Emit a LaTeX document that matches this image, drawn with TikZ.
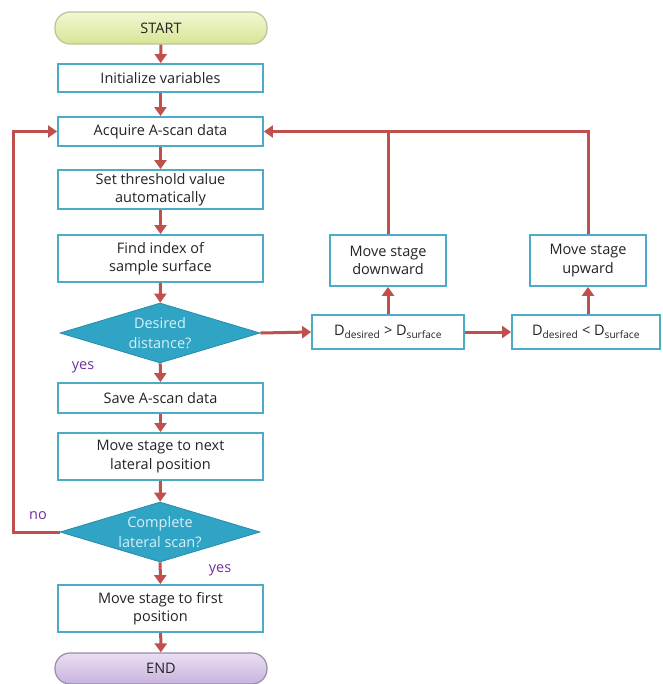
\documentclass[tikz,border=0pt]{standalone}
\usepackage{fontspec}
\setmainfont{Open Sans}
\usetikzlibrary{shapes.geometric,arrows.meta,calc}
\definecolor{boxline}{RGB}{75,172,198}
\definecolor{dfill}{RGB}{48,164,196}
\definecolor{dline}{RGB}{40,140,170}
\definecolor{dtext}{RGB}{215,240,250}
\definecolor{arr}{RGB}{192,80,77}
\definecolor{lbl}{RGB}{112,48,160}
\definecolor{startA}{RGB}{243,247,210}
\definecolor{startB}{RGB}{214,229,150}
\definecolor{startL}{RGB}{185,195,150}
\definecolor{endA}{RGB}{234,222,242}
\definecolor{endB}{RGB}{200,180,222}
\definecolor{endL}{RGB}{150,140,165}
\definecolor{txt}{RGB}{35,35,35}
\begin{document}
\begin{tikzpicture}[x=1pt,y=-1pt,
  every node/.style={font=\fontsize{14.5}{18.5}\selectfont, text=txt},
  procbox/.style={draw=boxline, line width=1.8pt, fill=white, align=center, inner sep=0pt},
  decbox/.style={diamond, draw=dline, line width=0.8pt, fill=dfill, aspect=3.33, inner sep=0pt,
     minimum width=200pt, minimum height=60pt, align=center, text=dtext,
     font=\fontsize{14.5}{20}\selectfont},
  termbox/.style={rounded corners=15pt, line width=1.2pt, align=center, inner sep=0pt},
  flow/.style={draw=arr, line width=3pt, -{Triangle[width=12pt,length=9pt]}},
  plainflow/.style={draw=arr, line width=3pt},
  lab/.style={text=lbl}
]
\useasboundingbox (0,0) rectangle (662,684);

\node[termbox, draw=startL, top color=startA, bottom color=startB,
      minimum width=212pt, minimum height=32pt] (start) at (161,28) {START};
\node[procbox, minimum width=205pt, minimum height=28pt] (init) at (160.5,78) {Initialize variables};
\node[procbox, minimum width=205pt, minimum height=29pt] (acq) at (160.5,131.5) {Acquire A-scan data};
\node[procbox, minimum width=205pt, minimum height=39pt] (thr) at (160.5,189.5) {Set threshold value\\automatically};
\node[procbox, minimum width=205pt, minimum height=47pt] (find) at (160.5,258.5) {Find index of\\sample surface};
\node[decbox] (des) at (160,333) {Desired\\distance?};
\node[procbox, minimum width=205pt, minimum height=30pt] (save) at (160.5,398) {Save A-scan data};
\node[procbox, minimum width=205pt, minimum height=47pt] (next) at (160.5,456.5) {Move stage to next\\lateral position};
\node[decbox] (comp) at (160,532) {Complete\\lateral scan?};
\node[procbox, minimum width=205pt, minimum height=47pt] (first) at (160.5,608.5) {Move stage to first\\position};
\node[termbox, draw=endL, top color=endA, bottom color=endB,
      minimum width=212pt, minimum height=31pt] (end) at (161,668.5) {END};

\node[procbox, minimum width=152pt, minimum height=34pt] (gt) at (388,332)
  {D\textsubscript{desired} > D\textsubscript{surface}};
\node[procbox, minimum width=148pt, minimum height=34pt] (lt) at (586,332)
  {D\textsubscript{desired} < D\textsubscript{surface}};
\node[procbox, minimum width=116pt, minimum height=51pt] (down) at (388,260.5) {Move stage\\downward};
\node[procbox, minimum width=116pt, minimum height=51pt] (up) at (588,260.5) {Move stage\\upward};

\coordinate (loopL) at (13,532);
\coordinate (loopT) at (13,131.5);
\coordinate (topR) at (588,131.5);
\coordinate (topM) at (388,131.5);

\draw[flow] (start) -- (init);
\draw[flow] (init) -- (acq);
\draw[flow] (acq) -- (thr);
\draw[flow] (thr) -- (find);
\draw[flow] (find) -- (des);
\draw[flow] (des) -- (save);
\draw[flow] (save) -- (next);
\draw[flow] (next) -- (comp);
\draw[flow] (comp) -- (first);
\draw[flow] (first) -- (end);

\draw[flow] (des.east) -- (gt.west);
\draw[flow] (gt.east) -- (lt.west);
\draw[flow] (gt.north) -- (down.south);
\draw[flow] (lt.north -| up.south) -- (up.south);
\draw[plainflow] (down.north) -- (topM);
\draw[flow] (up.north) -- (topR) -- (acq.east);

\draw[flow] (comp.west) -- (loopL) -- (loopT) -- (acq.west);

\node[lab] (yes1) at (83,367) {yes};
\node[lab] (yes2) at (220,570) {yes};
\node[lab] (no) at (38,516) {no};
\end{tikzpicture}
\end{document}
